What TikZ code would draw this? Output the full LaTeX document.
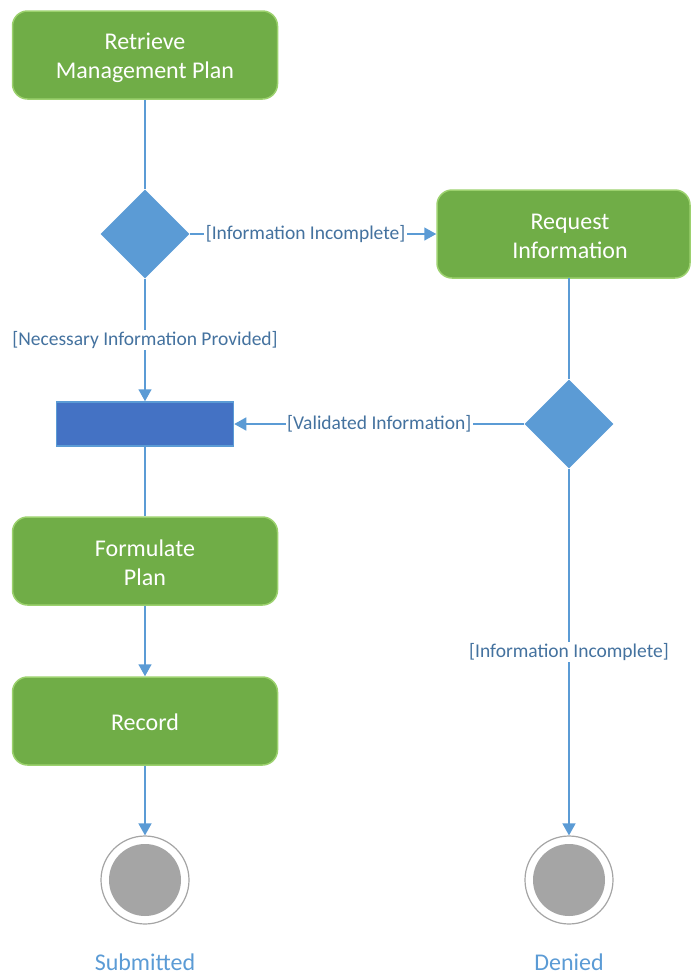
\documentclass[tikz,border=0pt]{standalone}
\usepackage{fontspec}
\setmainfont{Carlito}
\usetikzlibrary{shapes.geometric,arrows.meta}
\definecolor{actgreen}{HTML}{70AD47}
\definecolor{actborder}{HTML}{9CD16E}
\definecolor{decblue}{HTML}{5B9BD5}
\definecolor{forkblue}{HTML}{4472C4}
\definecolor{lblblue}{HTML}{44729F}
\definecolor{endgray}{HTML}{A5A5A5}
\tikzset{
  action/.style={draw=actborder, fill=actgreen, line width=1.5pt, rounded corners=15pt,
    minimum width=265pt, minimum height=88pt, inner sep=0pt},
  acttext/.style={text=white, align=center, inner sep=0pt, font=\fontsize{24}{29}\selectfont},
  decision/.style={diamond, fill=decblue, draw=none, minimum width=89pt, minimum height=89pt, inner sep=0pt},
  forkbar/.style={rectangle, fill=forkblue, draw=decblue, line width=1.5pt, minimum width=177pt, minimum height=44pt, inner sep=0pt},
  endring/.style={circle, draw=endgray, fill=white, line width=1.2pt, minimum size=88pt, inner sep=0pt},
  endcore/.style={circle, fill=endgray, draw=none, minimum size=72pt, inner sep=0pt},
  flow/.style={draw=decblue, line width=1.5pt},
  arr/.style={flow, -{Triangle[length=12pt,width=13pt]}},
  elabel/.style={fill=white, text=lblblue, inner sep=1.5pt, font=\fontsize{19.5}{23}\selectfont},
  endlabel/.style={text=decblue, inner sep=0pt, font=\fontsize{24}{28}\selectfont}
}
\begin{document}
\begin{tikzpicture}[x=1pt,y=-1pt]
\useasboundingbox (0,0) rectangle (691,975);
\node[action] (retrieve) at (145,55) {};
\node[acttext, yshift=-2.5pt] (retrieveT) at (retrieve.center) {Retrieve\\Management Plan};
\node[decision] (d1) at (145,234) {};
\node[action, minimum width=253pt] (request) at (563.5,234) {};
\node[acttext, yshift=-2.5pt] (requestT) at (570,234) {Request\\Information};
\node[forkbar] (fork) at (145,424) {};
\node[decision] (d2) at (569,424) {};
\node[action] (formulate) at (145,561) {};
\node[acttext, yshift=-1.5pt] (formulateT) at (formulate.center) {Formulate\\Plan};
\node[action] (record) at (145,721) {};
\node[acttext, yshift=-1pt] (recordT) at (record.center) {Record};
\node[endring] (end1) at (145,880) {};
\node[endcore] (end1in) at (145,880) {};
\node[endring] (end2) at (569,880) {};
\node[endcore] (end2in) at (569,880) {};
\node[endlabel] (lsub) at (145,962) {Submitted};
\node[endlabel] (lden) at (569,962) {Denied};
\coordinate (rqs) at (569,278);

\draw[flow] (retrieve.south -| d1.north) -- (d1.north);
\draw[arr] (d1.east) -- node[elabel, pos=0.47] {[Information Incomplete]} (request.west);
\draw[arr] (d1.south) -- node[elabel] {[Necessary Information Provided]} (fork.north -| d1.south);
\draw[flow] (rqs) -- (d2.north);
\draw[arr] (d2.west) -- node[elabel] {[Validated Information]} (fork.east);
\draw[arr] (d2.south) -- node[elabel] {[Information Incomplete]} (end2.north);
\draw[flow] (fork.south) -- (formulate.north);
\draw[arr] (formulate.south) -- (record.north);
\draw[arr] (record.south) -- (end1.north);
\end{tikzpicture}
\end{document}
